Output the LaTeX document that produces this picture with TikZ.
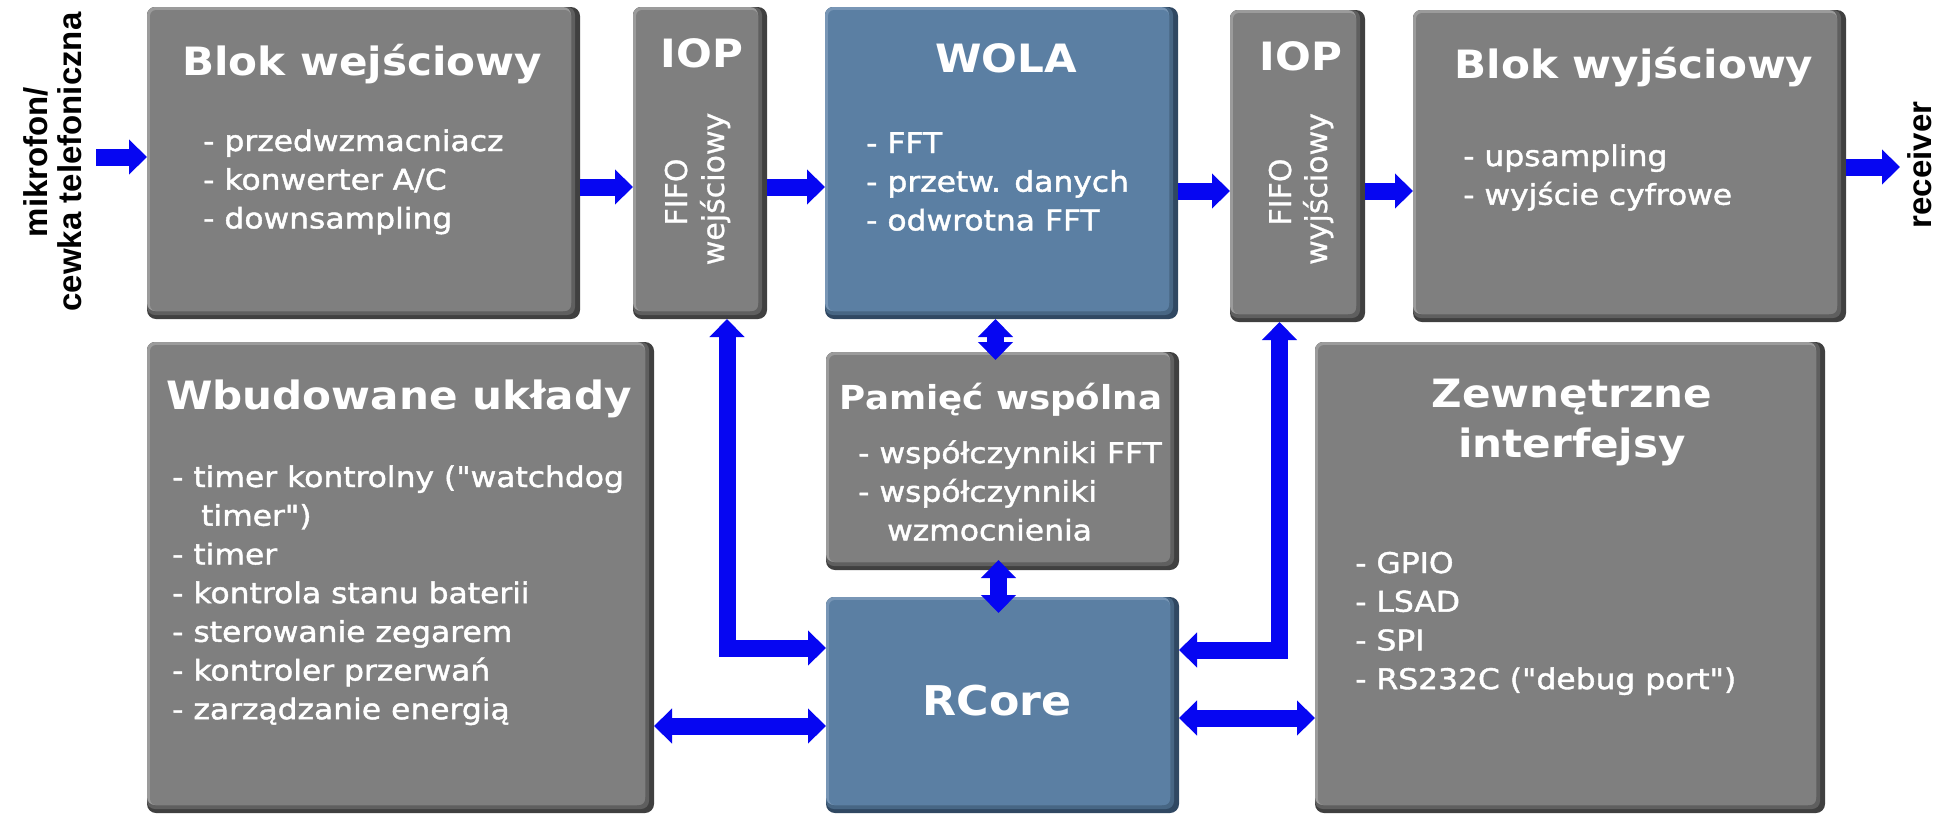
\documentclass[tikz,border=0pt]{standalone}
\usepackage{fontspec}
\usetikzlibrary{arrows.meta}

% fonts: headings, item lists, rotated FIFO labels, outside labels
\newfontfamily\hdfont[FakeStretch=1.08]{DejaVu Sans}
\newfontfamily\lsfont[FakeStretch=1.1,FakeBold=1.5]{DejaVu Sans}
\newfontfamily\rotfont[FakeBold=0.8]{DejaVu Sans}
\newfontfamily\lblfont{Liberation Sans}

% gray panel shades
\definecolor{gmain}{HTML}{7F7F7F}
\definecolor{glite}{HTML}{9B9B9B}
\definecolor{gmid}{HTML}{5F5F5F}
\definecolor{gdark}{HTML}{404040}
% blue panel shades
\definecolor{bmain}{HTML}{5B7FA3}
\definecolor{blite}{HTML}{7896B6}
\definecolor{bmid}{HTML}{476684}
\definecolor{bdark}{HTML}{304862}
% bus arrows
\definecolor{busblue}{RGB}{6,6,242}

% bevelled panel drawn over a named box node: #1 node, #2 colour prefix
\newcommand\bevelpanel[2]{%
  \fill[#2mid, rounded corners=8pt] (#1.north west) rectangle ([shift={(-5,-4)}]#1.south east);
  \fill[#2lite, rounded corners=8pt] (#1.north west) rectangle ([shift={(-9,-8)}]#1.south east);
  \fill[#2main, rounded corners=6pt] ([shift={(3,3)}]#1.north west) rectangle ([shift={(-9,-8)}]#1.south east);
}
% stacked list lines, baseline of the first line at the node
\newcommand\itemlines[1]{\begin{tabular}[t]{@{}l@{}}#1\end{tabular}}

\begin{document}
\begin{tikzpicture}[x=1pt, y=-1pt,
  panel/.style={rounded corners=9pt, inner sep=0pt, outer sep=0pt, draw=none},
  graypanel/.style={panel, fill=gdark},
  bluepanel/.style={panel, fill=bdark},
  head/.style={text=white, inner sep=0pt, anchor=base,
    font=\hdfont\bfseries\fontsize{39}{47}\selectfont},
  smallhead/.style={head, font=\hdfont\bfseries\fontsize{33}{40}\selectfont},
  bighead/.style={head, font=\hdfont\bfseries\fontsize{41}{49}\selectfont},
  items/.style={text=white, inner sep=0pt, anchor=base west,
    font=\lsfont\fontsize{28.5}{38.7}\selectfont},
  vert/.style={text=white, inner sep=0pt, anchor=base, rotate=90,
    font=\rotfont\fontsize{30}{36}\selectfont},
  side/.style={text=black, inner sep=0pt, anchor=base, rotate=90,
    font=\lblfont\bfseries\fontsize{33}{40}\selectfont},
  tipA/.tip={Triangle[width=34pt,length=18pt]},
  flow/.style={draw=busblue, line width=17pt, -tipA},
  link/.style={draw=busblue, line width=17pt, tipA-tipA},
]
\useasboundingbox (0,0) rectangle (1937,815);
\fill[white] (0,0) rectangle (1937,815);

% ---- panels ----
\node[graypanel, minimum width=433pt, minimum height=312pt] (bin) at (363.5,163) {};
\node[graypanel, minimum width=134pt, minimum height=312pt] (iopin) at (700,163) {};
\node[bluepanel, minimum width=353pt, minimum height=312pt] (wola) at (1001.5,163) {};
\node[graypanel, minimum width=135pt, minimum height=312pt] (iopout) at (1297.5,166) {};
\node[graypanel, minimum width=433pt, minimum height=312pt] (bout) at (1629.5,166) {};
\node[graypanel, minimum width=507pt, minimum height=471pt] (emb) at (400.5,577.5) {};
\node[graypanel, minimum width=353pt, minimum height=218pt] (mem) at (1002.5,461) {};
\node[bluepanel, minimum width=353pt, minimum height=216pt] (rcore) at (1002.5,705) {};
\node[graypanel, minimum width=510pt, minimum height=471pt] (ext) at (1570,577.5) {};

\bevelpanel{bin}{g}
\bevelpanel{iopin}{g}
\bevelpanel{wola}{b}
\bevelpanel{iopout}{g}
\bevelpanel{bout}{g}
\bevelpanel{emb}{g}
\bevelpanel{mem}{g}
\bevelpanel{rcore}{b}
\bevelpanel{ext}{g}

% ---- headings ----
\node[head] (binT) at (362,75) {Blok wejściowy};
\node[head] (iopinT) at (702,67) {IOP};
\node[head] (wolaT) at (1006,72) {WOLA};
\node[head] (iopoutT) at (1301,70) {IOP};
\node[head] (boutT) at (1634,78) {Blok wyjściowy};
\node[head] (embT) at (399,409) {Wbudowane układy};
\node[smallhead] (memT) at (1001,409) {Pamięć wspólna};
\node[bighead] (rcoreT) at (997,715) {RCore};
\node[head] (extTa) at (1572,407) {Zewnętrzne};
\node[head] (extTb) at (1572,457) {interfejsy};

% ---- item lists ----
\node[items] (binL) at (203,151) {\itemlines{- przedwzmacniacz\\- konwerter A/C\\- downsampling}};
\node[items] (wolaL) at (866,153) {\itemlines{- FFT\\- przetw. danych\\- odwrotna FFT}};
\node[items] (boutL) at (1463,166) {\itemlines{- upsampling\\- wyjście cyfrowe}};
\node[items] (embL) at (172,487) {\itemlines{- timer kontrolny ("watchdog\\\hspace*{29pt}timer")\\- timer\\- kontrola stanu baterii\\- sterowanie zegarem\\- kontroler przerwań\\- zarządzanie energią}};
\node[items] (memL) at (858,463) {\itemlines{- współczynniki FFT\\- współczynniki\\\hspace*{29pt}wzmocnienia}};
\node[items] (extL) at (1355,573) {\itemlines{- GPIO\\- LSAD\\- SPI\\- RS232C ("debug port")}};

% ---- FIFO labels ----
\node[vert] (fifoA) at (687,192) {FIFO};
\node[vert] (fifoAb) at (724,189) {wejściowy};
\node[vert] (fifoB) at (1291,192) {FIFO};
\node[vert] (fifoBb) at (1327,189) {wyjściowy};

% ---- outside labels ----
\node[side] (micA) at (47,162) {mikrofon/};
\node[side] (micB) at (81,162) {cewka telefoniczna};
\node[side] (recv) at (1931,165) {receiver};

% ---- signal path ----
\coordinate (src) at (96,157);
\coordinate (snk) at (1900,167);
\draw[flow] (src) -- (src -| bin.west);
\draw[flow] ([shift={(0,24)}]bin.east) -- ([shift={(0,24)}]iopin.west);
\draw[flow] ([shift={(0,24)}]iopin.east) -- ([shift={(0,24)}]wola.west);
\draw[flow] ([shift={(0,28)}]wola.east) -- ([shift={(0,25)}]iopout.west);
\draw[flow] ([shift={(0,25)}]iopout.east) -- ([shift={(0,25)}]bout.west);
\draw[flow] (bout.east |- snk) -- (snk);

% ---- buses ----
\draw[link] ([shift={(-6,0)}]wola.south) -- ([shift={(-7,8)}]mem.north);
\draw[link] ([shift={(-4,-10)}]mem.south) -- ([shift={(-4,16)}]rcore.north);
\draw[link] ([shift={(27,0)}]iopin.south) |- ([shift={(0,-57)}]rcore.west);
\draw[link] ([shift={(-18,0)}]iopout.south) |- ([shift={(0,-55)}]rcore.east);
\draw[link] ([shift={(0,148.5)}]emb.east) -- ([shift={(0,21)}]rcore.west);
\draw[link] ([shift={(0,13)}]rcore.east) -- ([shift={(0,140.5)}]ext.west);
\end{tikzpicture}
\end{document}
